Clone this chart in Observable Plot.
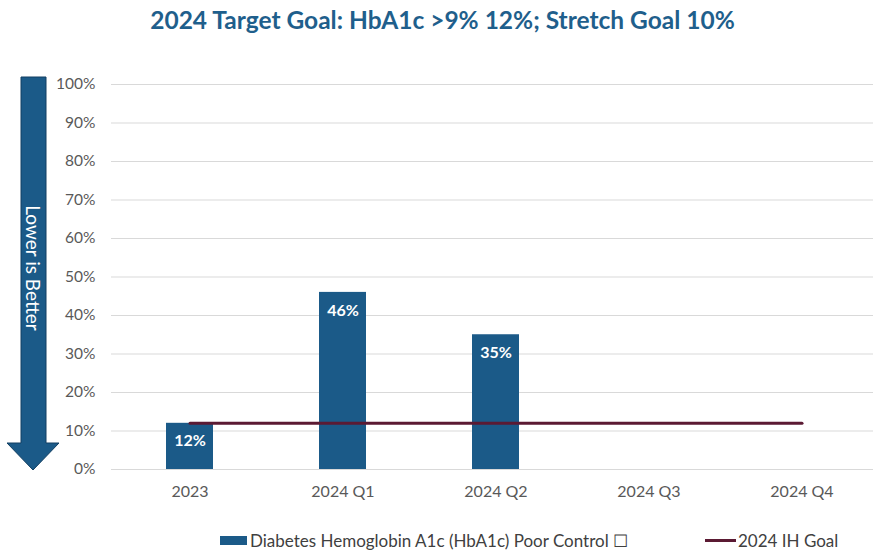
<!DOCTYPE html>
<html>
<head>
<meta charset="utf-8">
<script src="https://cdn.jsdelivr.net/npm/d3@7"></script>
<script src="https://cdn.jsdelivr.net/npm/@observablehq/plot@0.6"></script>
<style>
  html, body { margin: 0; padding: 0; background: #fff; }
  #wrap { position: relative; width: 873px; height: 552px; font-family: Lato, "Open Sans", sans-serif; }
  #title { height: 45px; box-sizing: border-box; padding-top: 6px; padding-left: 12px; text-align: center;
           font-size: 24.5px; font-weight: bold; color: #1f5f8c; line-height: 28px; }
  #chart { height: 465px; }
  #legend { position: absolute; top: 529px; left: 0; width: 873px; height: 22px; font-size: 17px; color: #404040; }
  .item { position: absolute; top: 0; display: flex; align-items: center; height: 22px; white-space: nowrap; }
  .sw { display: inline-block; }
  #arrow { position: absolute; left: 0; top: 0; }
</style>
</head>
<body>
<div id="wrap">
  <div id="title">2024 Target Goal: HbA1c &gt;9% 12%; Stretch Goal 10%</div>
  <div id="chart"></div>
  <div id="legend"></div>
  <svg id="arrow" width="70" height="480">
    <path d="M21,77 L46,77 L46,443 L59,443 L33,470 L7,443 L21,443 Z" fill="#1b5a88" stroke="#123f62" stroke-width="1"/>
    <text transform="translate(33,268) rotate(90)" text-anchor="middle" dy="0.35em" fill="#fff"
          font-family="Lato, 'Open Sans', sans-serif" font-size="19">Lower is Better</text>
  </svg>
</div>
<script>
const categories = ["2023", "2024 Q1", "2024 Q2", "2024 Q3", "2024 Q4"];
const poorControl = [12, 46, 35, null, null];
const goalValues = [12, 12, 12, 12, 12];
const yTicks = [0, 10, 20, 30, 40, 50, 60, 70, 80, 90, 100];
const seriesNames = ["Diabetes Hemoglobin A1c (HbA1c) Poor Control \u2610", "2024 IH Goal"];
const barColor = "#1b5a88";
const goalColor = "#5b1a33";

const bars = categories.map((c, i) => ({cat: c, v: poorControl[i]})).filter(d => d.v != null);
const goal = categories.map((c, i) => ({cat: c, v: goalValues[i]}));

const chart = Plot.plot({
  width: 873,
  height: 465,
  marginLeft: 111,
  marginRight: 0,
  marginTop: 39,
  marginBottom: 41,
  style: {fontFamily: "Lato, 'Open Sans', sans-serif", fontSize: "15px", color: "#595959", background: "transparent"},
  x: {type: "band", domain: categories, range: [111, 880], paddingInner: 0.69, paddingOuter: 0.345, align: 0.5, label: null},
  y: {domain: [0, 100], label: null},
  marks: [
    Plot.ruleY(yTicks, {stroke: "#d9d9d9", strokeWidth: 1}),
    Plot.barY(bars, {x: "cat", y: "v", fill: barColor}),
    Plot.text(bars, {x: "cat", y: "v", text: d => d.v + "%", dy: 18, fill: "#fff", fontWeight: "bold", fontSize: 16}),
    Plot.lineY(goal, {x: "cat", y: "v", stroke: goalColor, strokeWidth: 3}),
    Plot.axisX({tickSize: 0, tickPadding: 16, label: null, fontSize: 16}),
    Plot.axisY({ticks: yTicks, tickFormat: d => d + "%", tickSize: 0, tickPadding: 16, label: null, fontSize: 15.5})
  ]
});
document.getElementById("chart").appendChild(chart);

const legend = document.getElementById("legend");
const it1 = document.createElement("div");
it1.className = "item"; it1.style.left = "220px";
it1.innerHTML = `<span class="sw" style="width:27px;height:9px;background:${barColor};margin-right:3px"></span><span>${seriesNames[0]}</span>`;
const it2 = document.createElement("div");
it2.className = "item"; it2.style.left = "705px";
it2.innerHTML = `<span class="sw" style="width:31px;height:3px;background:${goalColor};margin-right:2px"></span><span>${seriesNames[1]}</span>`;
legend.appendChild(it1); legend.appendChild(it2);
</script>
</body>
</html>
